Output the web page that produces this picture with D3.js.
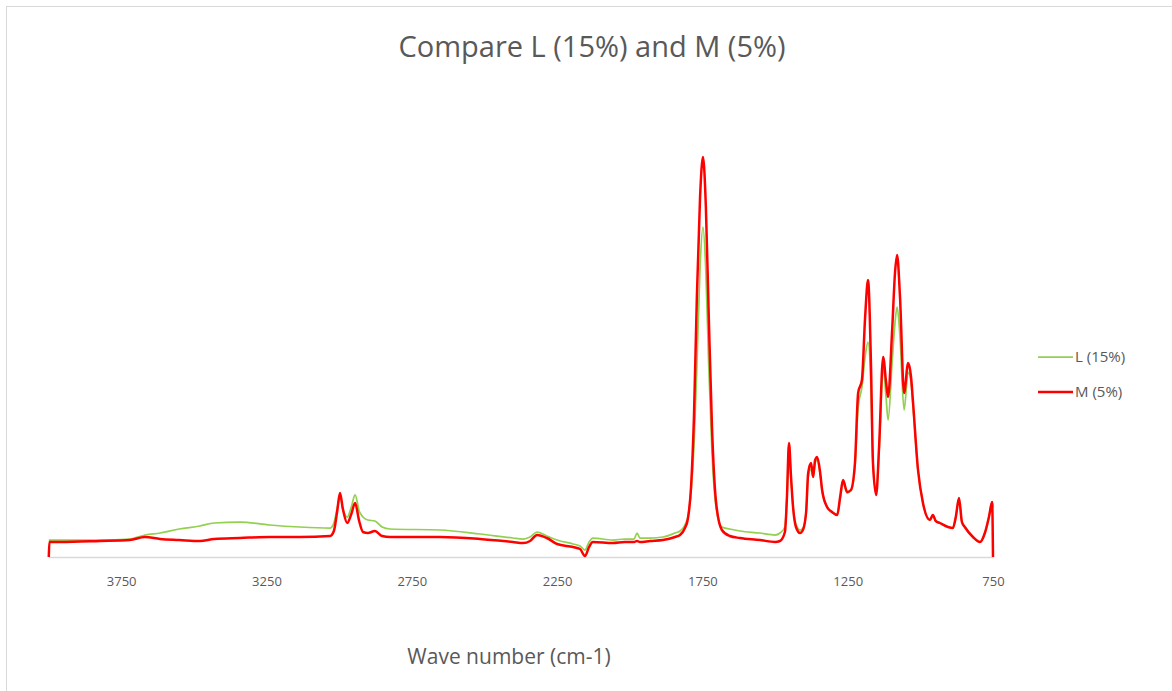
<!DOCTYPE html>
<html>
<head>
<meta charset="utf-8">
<script src="https://cdn.jsdelivr.net/npm/d3@7"></script>
<style>
  html, body { margin: 0; padding: 0; background: #fff; }
  svg { display: block; }
  text { font-family: "Open Sans", sans-serif; fill: #595959; }
</style>
</head>
<body>
<svg id="chart" width="1172" height="691"></svg>
<script>
// wave numbers (cm-1), shared by both series
const waveNumbers = [
  3999, 3997, 3960, 3823, 3720, 3668, 3616, 3550, 3479, 3430,
  3341, 3238, 3135, 3031, 3018, 3007, 2997, 2987, 2972, 2958,
  2945, 2931, 2918, 2901, 2877, 2852, 2825, 2653, 2515, 2402,
  2367, 2343, 2319, 2285, 2250, 2195, 2171, 2154, 2140, 2127,
  2058, 2017, 1985, 1975, 1965, 1930, 1886, 1844, 1827, 1810,
  1800, 1789, 1779, 1769, 1758, 1748, 1738, 1728, 1717, 1703,
  1683, 1656, 1621, 1552, 1500, 1483, 1466, 1459, 1452, 1445,
  1438, 1428, 1414, 1404, 1393, 1386, 1376, 1369, 1362, 1355,
  1345, 1338, 1321, 1304, 1286, 1276, 1266, 1252, 1239, 1225,
  1214, 1201, 1190, 1180, 1170, 1163, 1152, 1142, 1128, 1118,
  1111, 1097, 1087, 1080, 1070, 1056, 1042, 1032, 1025, 1008,
  991, 967, 957, 947, 933, 905, 888, 878, 867, 857,
  847, 819, 795, 778, 764, 753, 750
];

const valuesL = [
  .017, .017, .017, .017, .018, .022, .024, .028, .031, .034,
  .035, .032, .030, .029, .034, .048, .060, .048, .040, .050,
  .062, .046, .040, .037, .036, .030, .028, .027, .023, .019,
  .018, .020, .025, .021, .017, .013, .011, .007, .015, .019,
  .017, .018, .018, .024, .019, .019, .020, .024, .026, .032,
  .040, .065, .110, .190, .290, .330, .285, .190, .105, .050,
  .030, .028, .026, .024, .022, .024, .030, .060, .110, .078,
  .050, .033, .027, .029, .045, .080, .088, .080, .094, .097,
  .083, .066, .050, .045, .042, .058, .074, .064, .066, .090,
  .150, .170, .200, .215, .170, .094, .065, .105, .190, .160,
  .137, .195, .235, .250, .220, .147, .185, .175, .150, .087,
  .054, .037, .042, .036, .034, .030, .029, .040, .059, .035,
  .030, .020, .015, .024, .040, .055, .050
];

const valuesM = [
  0, .015, .015, .016, .017, .020, .018, .017, .016, .018,
  .019, .020, .020, .021, .026, .045, .064, .048, .034, .043,
  .054, .036, .025, .024, .026, .021, .020, .020, .018, .015,
  .014, .016, .022, .019, .013, .010, .008, .001, .010, .015,
  .014, .015, .015, .016, .015, .016, .017, .020, .022, .029,
  .038, .070, .140, .260, .360, .400, .350, .240, .130, .055,
  .027, .021, .019, .017, .015, .016, .025, .060, .114, .080,
  .050, .030, .024, .027, .045, .084, .094, .080, .097, .100,
  .085, .067, .050, .045, .042, .060, .077, .065, .067, .094,
  .164, .177, .240, .277, .194, .094, .062, .110, .200, .175,
  .160, .227, .285, .302, .260, .164, .194, .180, .154, .087,
  .054, .037, .042, .036, .034, .030, .029, .040, .059, .035,
  .030, .020, .015, .024, .040, .055, 0
];

const xTicks = [3750, 3250, 2750, 2250, 1750, 1250, 750];
const seriesNames = ['L (15%)', 'M (5%)'];
const seriesColors = ['#92d050', '#ff0000'];

const svg = d3.select('#chart');

// outer chart frame
svg.append('rect')
  .attr('x', 6.5).attr('y', 6.5)
  .attr('width', 1200).attr('height', 720)
  .attr('fill', 'none')
  .attr('stroke', '#d9d9d9');

const x = d3.scaleLinear().domain([4000, 750]).range([48.5, 993]);
const y = d3.scaleLinear().domain([0, 0.4]).range([557, 157]);

// title
svg.append('text')
  .attr('x', 592).attr('y', 57)
  .attr('text-anchor', 'middle')
  .attr('font-size', '29px')
  .text('Compare L (15%) and M (5%)');

// x axis
const xAxis = d3.axisBottom(x)
  .tickValues(xTicks)
  .tickFormat(d3.format('d'))
  .tickSize(0)
  .tickPadding(20);
const gx = svg.append('g')
  .attr('transform', `translate(0,${y(0)})`)
  .call(xAxis);
gx.select('.domain').attr('stroke', '#d9d9d9').attr('stroke-width', 1.5);
gx.selectAll('text')
  .attr('font-family', '"Open Sans", sans-serif')
  .attr('font-size', '13px')
  .attr('fill', '#595959');

svg.append('text')
  .attr('x', 509).attr('y', 664)
  .attr('text-anchor', 'middle')
  .attr('font-size', '21px')
  .text('Wave number (cm-1)');

// series lines
const line = d3.line()
  .x(d => x(d[0]))
  .y(d => y(d[1]))
  .curve(d3.curveMonotoneX);

const dataL = waveNumbers.map((w, i) => [w, valuesL[i]]);
const dataM = waveNumbers.map((w, i) => [w, valuesM[i]]);

svg.append('path')
  .datum(dataL)
  .attr('d', line)
  .attr('fill', 'none')
  .attr('stroke', seriesColors[0])
  .attr('stroke-width', 1.75)
  .attr('stroke-linejoin', 'round');

svg.append('path')
  .datum(dataM)
  .attr('d', line)
  .attr('fill', 'none')
  .attr('stroke', seriesColors[1])
  .attr('stroke-width', 2.5)
  .attr('stroke-linejoin', 'round');

// legend
const legend = svg.append('g').attr('transform', 'translate(1038,357)');
seriesNames.forEach((name, i) => {
  const g = legend.append('g').attr('transform', `translate(0,${i * 35})`);
  g.append('line')
    .attr('x1', 0).attr('x2', 35)
    .attr('stroke', seriesColors[i])
    .attr('stroke-width', i === 1 ? 2.5 : 1.75);
  g.append('text')
    .attr('x', 37).attr('y', 5)
    .attr('font-size', '15px')
    .text(name);
});
</script>
</body>
</html>
